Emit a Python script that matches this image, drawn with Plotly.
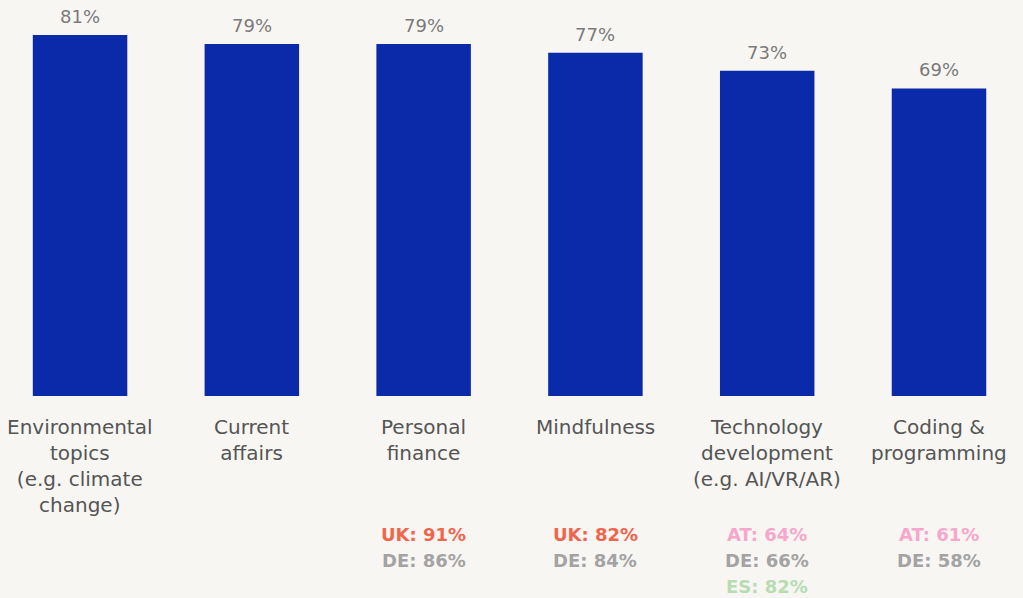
import plotly.graph_objects as go

categories = ["Environmental<br>topics<br>(e.g. climate<br>change)", "Current<br>affairs",
              "Personal<br>finance", "Mindfulness",
              "Technology<br>development<br>(e.g. AI/VR/AR)", "Coding &<br>programming"]
values = [81, 79, 79, 77, 73, 69]
value_labels = ["81%", "79%", "79%", "77%", "73%", "69%"]
# country breakouts per category: list of (label, colour-key)
country_notes = [
    [],
    [],
    [("UK: 91%", "UK"), ("DE: 86%", "DE")],
    [("UK: 82%", "UK"), ("DE: 84%", "DE")],
    [("AT: 64%", "AT"), ("DE: 66%", "DE"), ("ES: 82%", "ES")],
    [("AT: 61%", "AT"), ("DE: 58%", "DE")],
]
country_colors = {"UK": "#f2654d", "DE": "#a3a3a3", "AT": "#f7a6cc", "ES": "#b8dcb2"}

xs = list(range(len(categories)))
fig = go.Figure()
fig.add_trace(go.Bar(x=xs, y=values, marker=dict(color="#0b2aa9", line=dict(width=0)),
                     hoverinfo="skip"))

ann = []
for i, (v, lab) in enumerate(zip(values, value_labels)):
    ann.append(dict(x=i, y=v, xref="x", yref="y", text=lab, showarrow=False,
                    yanchor="bottom", yshift=6,
                    font=dict(family="DejaVu Sans", size=18, color="#7a7a7a")))
    ann.append(dict(x=i, y=0, xref="x", yref="paper", text=categories[i], showarrow=False,
                    yanchor="top", yshift=-17,
                    font=dict(family="DejaVu Sans", size=20, color="#555555")))
    for j, (t, c) in enumerate(country_notes[i]):
        ann.append(dict(x=i, y=0, xref="x", yref="paper", text="<b>" + t + "</b>",
                        showarrow=False, yanchor="middle", yshift=-(138 + 26 * j),
                        font=dict(family="DejaVu Sans", size=18, color=country_colors[c])))

fig.update_layout(
    width=1023, height=598,
    margin=dict(l=0, r=0, t=0, b=202),
    paper_bgcolor="#f7f6f3", plot_bgcolor="#f7f6f3",
    bargap=0.45, showlegend=False,
    xaxis=dict(range=[-0.466, 5.489], showticklabels=False, showgrid=False,
               zeroline=False, showline=False, fixedrange=True),
    yaxis=dict(range=[0, 88.85], showticklabels=False, showgrid=False,
               zeroline=False, showline=False, fixedrange=True),
    annotations=ann,
)
fig.write_html("out.html", config={"displayModeBar": False},
               post_script="document.body.style.margin='0';document.body.style.overflow='hidden';")
